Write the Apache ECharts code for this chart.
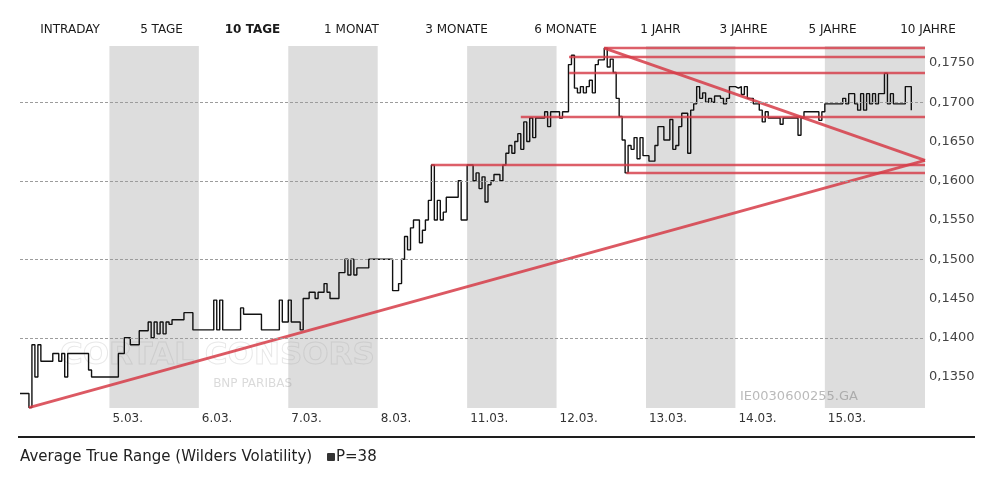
<!DOCTYPE html>
<html>
<head>
<meta charset="utf-8">
<script src="https://cdn.jsdelivr.net/npm/echarts@6/dist/echarts.min.js"></script>
<style>
  html, body { margin: 0; padding: 0; background: #fff; }
  #chart { width: 1000px; height: 478px; }
</style>
</head>
<body>
<div id="chart"></div>
<script>
// Period selector shown above the chart
const periodTabs = ['INTRADAY', '5 TAGE', '10 TAGE', '1 MONAT', '3 MONATE', '6 MONATE', '1 JAHR', '3 JAHRE', '5 JAHRE', '10 JAHRE'];
const activeTab = '10 TAGE';

// Trading days (one session each) and price axis ticks
const dayLabels = ['4.03.', '5.03.', '6.03.', '7.03.', '8.03.', '11.03.', '12.03.', '13.03.', '14.03.', '15.03.'];
const priceTicks = [0.1350, 0.1400, 0.1450, 0.1500, 0.1550, 0.1600, 0.1650, 0.1700, 0.1750];

// Intraday prices, 30 equally spaced samples per session
const p0403 = [0.1329,0.1329,0.1329,0.1311,0.1391,0.1350,0.1391,0.1370,0.1370,0.1370,0.1370,0.1380,0.1380,0.1370,0.1380,0.1350,0.1380,0.1380,0.1380,0.1380,0.1380,0.1380,0.1380,0.1359,0.1350,0.1350,0.1350,0.1350,0.1350,0.1350];
const p0503 = [0.1350,0.1350,0.1350,0.1380,0.1380,0.1400,0.1400,0.1391,0.1391,0.1391,0.1409,0.1409,0.1409,0.1420,0.1400,0.1420,0.1405,0.1420,0.1405,0.1420,0.1417,0.1423,0.1423,0.1423,0.1423,0.1432,0.1432,0.1432,0.1410,0.1410];
const p0603 = [0.1410,0.1410,0.1410,0.1410,0.1410,0.1448,0.1410,0.1448,0.1410,0.1410,0.1410,0.1410,0.1410,0.1410,0.1438,0.1430,0.1430,0.1430,0.1430,0.1430,0.1430,0.1410,0.1410,0.1410,0.1410,0.1410,0.1410,0.1448,0.1420,0.1420];
const p0703 = [0.1448,0.1420,0.1420,0.1420,0.1410,0.1450,0.1450,0.1458,0.1458,0.1450,0.1458,0.1458,0.1469,0.1458,0.1450,0.1450,0.1450,0.1483,0.1483,0.1500,0.1480,0.1500,0.1480,0.1489,0.1489,0.1489,0.1489,0.1500,0.1500,0.1500];
const p0803 = [0.1500,0.1500,0.1500,0.1500,0.1500,0.1460,0.1460,0.1469,0.1500,0.1529,0.1512,0.1540,0.1550,0.1550,0.1521,0.1537,0.1550,0.1575,0.1620,0.1550,0.1575,0.1550,0.1560,0.1579,0.1579,0.1579,0.1579,0.1600,0.1550,0.1550];
const p1103 = [0.1620,0.1620,0.1600,0.1610,0.1590,0.1605,0.1573,0.1595,0.1600,0.1608,0.1608,0.1600,0.1620,0.1635,0.1645,0.1635,0.1650,0.1660,0.1640,0.1675,0.1650,0.1680,0.1655,0.1680,0.1680,0.1680,0.1688,0.1669,0.1688,0.1688];
const p1203 = [0.1688,0.1680,0.1688,0.1688,0.1748,0.1760,0.1718,0.1712,0.1720,0.1712,0.1720,0.1728,0.1712,0.1748,0.1754,0.1754,0.1769,0.1745,0.1755,0.1738,0.1705,0.1682,0.1652,0.1610,0.1645,0.1640,0.1655,0.1628,0.1655,0.1632];
const p1303 = [0.1632,0.1625,0.1625,0.1645,0.1669,0.1669,0.1652,0.1652,0.1678,0.1640,0.1645,0.1669,0.1686,0.1686,0.1635,0.1690,0.1698,0.1720,0.1705,0.1712,0.1700,0.1705,0.1700,0.1708,0.1708,0.1705,0.1698,0.1705,0.1720,0.1720];
const p1403 = [0.1718,0.1720,0.1710,0.1720,0.1705,0.1705,0.1698,0.1698,0.1690,0.1675,0.1688,0.1680,0.1680,0.1680,0.1680,0.1672,0.1680,0.1680,0.1680,0.1680,0.1680,0.1658,0.1680,0.1688,0.1688,0.1688,0.1688,0.1688,0.1677,0.1688];
const p1503 = [0.1698,0.1698,0.1698,0.1698,0.1698,0.1698,0.1705,0.1698,0.1711,0.1711,0.1698,0.1690,0.1711,0.1690,0.1711,0.1698,0.1711,0.1698,0.1711,0.1711,0.1737,0.1698,0.1711,0.1698,0.1698,0.1698,0.1698,0.1720,0.1720,0.1690];

// Hand-drawn trend lines: [[day, price], [day, price]]
const supportLine    = [[0.10, 0.1311], [10.12, 0.1626]];
const resistanceLine = [[6.533, 0.1769], [10.12, 0.1626]];
const levelLines = [
  [[6.533, 0.1769], [10.12, 0.1769]],
  [[6.14, 0.1758], [10.12, 0.1758]],
  [[6.14, 0.1738], [10.12, 0.1738]],
  [[5.60, 0.1681], [10.12, 0.1681]],
  [[4.60, 0.1621], [10.12, 0.1621]],
  [[6.78, 0.1610], [10.12, 0.1610]]
];

const sessions = [p0403, p0503, p0603, p0703, p0803, p1103, p1203, p1303, p1403, p1503];
const shadedDays = [1, 3, 5, 7, 9];

const X_MAX = 10.12;
const Y_MIN = 0.13105;
const Y_MAX = 0.17717;

const priceData = [];
sessions.forEach((arr, d) => {
  arr.forEach((v, i) => priceData.push([d + i / arr.length, v]));
});

// the last shaded session runs to the right edge of the plot
const bandEnd = d => (d + 1 >= sessions.length ? X_MAX : d + 1);

const FONT = 'DejaVu Sans';
const tabX = [70, 161.5, 252.5, 351.5, 456.5, 565.5, 660.5, 743.5, 832.5, 928];

const graphics = periodTabs.map((t, i) => ({
  type: 'text',
  x: tabX[i], y: 30,
  style: {
    text: t,
    font: (t === activeTab ? 'bold ' : '') + '12px ' + FONT,
    fill: '#1a1a1a',
    align: 'center', verticalAlign: 'middle',
    textAlign: 'center', textVerticalAlign: 'middle'
  }
}));

graphics.push(
  // faint broker watermark
  { type: 'text', x: 60, y: 356, z: 2, style: { text: 'CORTAL CONSORS', font: 'bold 31px ' + FONT, fill: 'rgba(0,0,0,0)', stroke: 'rgba(150,150,150,0.22)', lineWidth: 1, verticalAlign: 'middle', textVerticalAlign: 'middle' } },
  { type: 'text', x: 292, y: 384, z: 2, style: { text: 'BNP PARIBAS', font: '12px ' + FONT, fill: 'rgba(150,150,150,0.35)', align: 'right', textAlign: 'right', verticalAlign: 'middle', textVerticalAlign: 'middle' } },
  { type: 'text', x: 740, y: 397, z: 2, style: { text: 'IE0030600255.GA', font: '13px ' + FONT, fill: 'rgba(140,140,140,0.6)', verticalAlign: 'middle', textVerticalAlign: 'middle' } },
  // separator above the indicator legend
  { type: 'line', shape: { x1: 18, y1: 437, x2: 975, y2: 437 }, style: { stroke: '#1e1e1e', lineWidth: 2 } },
  { type: 'text', x: 20, y: 457, style: { text: 'Average True Range (Wilders Volatility)', font: '15px ' + FONT, fill: '#222', verticalAlign: 'middle', textVerticalAlign: 'middle' } },
  { type: 'rect', shape: { x: 327, y: 453, width: 8, height: 8, r: 1 }, style: { fill: '#333' } },
  { type: 'text', x: 336, y: 457, style: { text: 'P=38', font: '15px ' + FONT, fill: '#222', verticalAlign: 'middle', textVerticalAlign: 'middle' } }
);

const redColor = '#d63c48';

const option = {
  backgroundColor: '#ffffff',
  animation: false,
  grid: { left: 20, right: 75, top: 46, bottom: 70 },
  xAxis: {
    type: 'value',
    min: 0, max: X_MAX, interval: 1,
    axisLine: { show: false },
    axisTick: { show: false },
    splitLine: { show: false },
    axisLabel: {
      margin: 5,
      align: 'left',
      padding: [0, 0, 0, 3],
      fontFamily: FONT, fontSize: 12, color: '#333',
      formatter: v => (Number.isInteger(v) && v > 0 && v < dayLabels.length) ? dayLabels[v] : ''
    }
  },
  yAxis: {
    type: 'value',
    position: 'right',
    min: Y_MIN, max: Y_MAX,
    axisLine: { show: false },
    axisTick: { show: false },
    splitLine: { show: false },
    axisLabel: {
      customValues: priceTicks,
      margin: 4,
      fontFamily: FONT, fontSize: 13, color: '#444',
      formatter: v => v.toFixed(4).replace('.', ',')
    }
  },
  graphic: graphics,
  series: [
    {
      // alternating day shading and horizontal price grid
      type: 'line',
      data: [],
      silent: true,
      z: 1,
      markArea: {
        silent: true,
        itemStyle: { color: '#dddddd' },
        data: shadedDays.map(d => [{ xAxis: d }, { xAxis: bandEnd(d) }])
      },
      markLine: {
        silent: true,
        symbol: 'none',
        label: { show: false },
        lineStyle: { color: '#9c9c9c', width: 1, type: [3, 2] },
        data: priceTicks.map(v => ({ yAxis: v }))
      }
    },
    {
      name: 'Kurs',
      type: 'line',
      step: 'end',
      data: priceData,
      showSymbol: false,
      symbol: 'none',
      z: 3,
      lineStyle: { color: '#111', width: 1.4 }
    },
    {
      type: 'lines',
      coordinateSystem: 'cartesian2d',
      polyline: false,
      silent: true,
      z: 4,
      lineStyle: { color: redColor, width: 2.4, opacity: 0.82 },
      data: levelLines.map(c => ({ coords: c }))
        .concat([
          { coords: supportLine, lineStyle: { width: 3, opacity: 0.85 } },
          { coords: resistanceLine, lineStyle: { width: 3, opacity: 0.85 } }
        ])
    }
  ]
};

const chart = echarts.init(document.getElementById('chart'), null, { renderer: 'canvas' });
chart.setOption(option);
</script>
</body>
</html>
